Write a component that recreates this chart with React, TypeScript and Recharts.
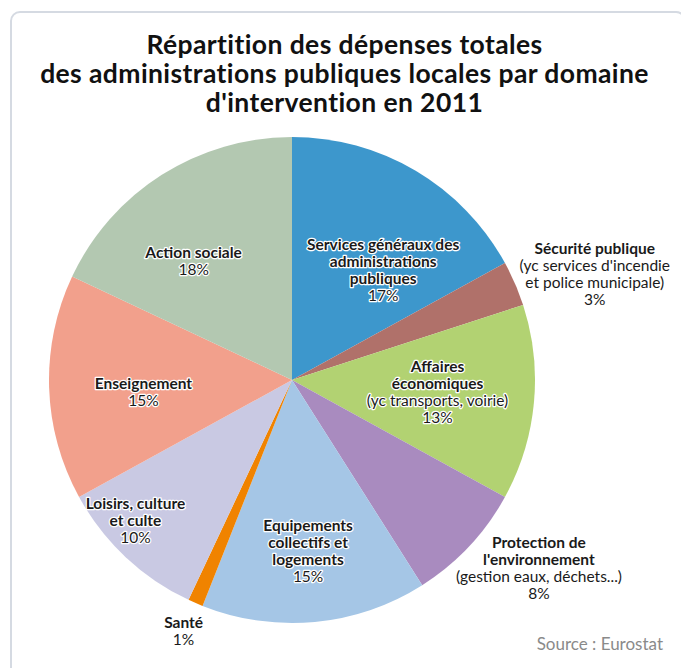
import { Cell, Pie, PieChart } from "recharts";

const domaines = [
  "Services généraux des administrations publiques",
  "Sécurité publique",
  "Affaires économiques",
  "Protection de l'environnement",
  "Equipements collectifs et logements",
  "Santé",
  "Loisirs, culture et culte",
  "Enseignement",
  "Action sociale",
];
const parts = [17, 3, 13, 8, 15, 1, 10, 15, 18];
const couleurs = [
  "#3d97cc",
  "#b0716a",
  "#b2d272",
  "#a98bbf",
  "#a5c6e6",
  "#f08300",
  "#c9c9e3",
  "#f2a08c",
  "#b3c8b1",
];

// label text: bold title lines, then optional regular lines
const titres = [
  ["Services généraux des", "administrations", "publiques"],
  ["Sécurité publique"],
  ["Affaires", "économiques"],
  ["Protection de", "l'environnement"],
  ["Equipements", "collectifs et", "logements"],
  ["Santé"],
  ["Loisirs, culture", "et culte"],
  ["Enseignement"],
  ["Action sociale"],
];
const sousTitres = [
  [],
  ["(yc services d'incendie", "et police municipale)"],
  ["(yc transports, voirie)"],
  ["(gestion eaux, déchets...)"],
  [],
  [],
  [],
  [],
  [],
];

const data = domaines.map((nom, i) => ({ nom, part: parts[i] }));

// label placement: distance from centre (px) and angle nudge (deg, clockwise)
const labelPlace = [
  { r: 143, da: 9, inside: true },
  { r: 321, da: 4, inside: false },
  { r: 146, da: -1, inside: true },
  { r: 310, da: -6, inside: false },
  { r: 171, da: 0, inside: true },
  { r: 273, da: 0, inside: false },
  { r: 210, da: 5, inside: true },
  { r: 149, da: -2.5, inside: true },
  { r: 155, da: -7, inside: true },
];

const FONT = "Lato, 'Open Sans', sans-serif";
const LINE = 17;

const renderLabel = (props: any) => {
  const { cx, cy, midAngle, index } = props;
  const place = labelPlace[index];
  const compass = ((90 - midAngle + place.da) * Math.PI) / 180;
  const x = cx + place.r * Math.sin(compass);
  const y = cy - place.r * Math.cos(compass);
  const lines = [
    ...titres[index].map((t) => ({ t, bold: true })),
    ...sousTitres[index].map((t) => ({ t, bold: false })),
    { t: `${parts[index]}%`, bold: false },
  ];
  const top = y - ((lines.length - 1) * LINE) / 2;
  return (
    <text
      key={index}
      x={x}
      y={top}
      textAnchor="middle"
      dominantBaseline="central"
      fontFamily={FONT}
      fontSize={15.5}
      fill="#1a1a1a"
      stroke={place.inside ? "#ffffff" : "none"}
      strokeWidth={2.5}
      strokeLinejoin="round"
      paintOrder="stroke"
    >
      {lines.map((l, k) => (
        <tspan
          key={k}
          x={x}
          y={top + k * LINE}
          fontWeight={l.bold ? 700 : 400}
        >
          {l.t}
        </tspan>
      ))}
    </text>
  );
};

export default function App() {
  return (
    <div
      style={{
        position: "relative",
        width: 689,
        height: 668,
        margin: "-8px 0 0 -8px",
        background: "#fff",
        overflow: "hidden",
        fontFamily: FONT,
      }}
    >
      <div
        style={{
          position: "absolute",
          left: 10,
          top: 11,
          width: 672,
          height: 700,
          border: "2px solid #d5dae2",
          borderRadius: 10,
        }}
      />
      <div
        style={{
          position: "absolute",
          left: 0,
          top: 30,
          width: 689,
          textAlign: "center",
          fontWeight: 700,
          fontSize: 26.5,
          letterSpacing: 0.4,
          lineHeight: "29px",
          color: "#111",
        }}
      >
        Répartition des dépenses totales
        <br />
        des administrations publiques locales par domaine
        <br />
        d'intervention en 2011
      </div>
      <div style={{ position: "absolute", left: 0, top: 0 }}>
        <PieChart
          width={689}
          height={668}
          margin={{ top: 0, right: 0, bottom: 0, left: 0 }}
        >
          <Pie
            data={data}
            dataKey="part"
            nameKey="nom"
            cx={292}
            cy={380}
            outerRadius={243}
            startAngle={90}
            endAngle={-270}
            stroke="none"
            label={renderLabel}
            labelLine={false}
            isAnimationActive={false}
          >
            {data.map((d, i) => (
              <Cell key={d.nom} fill={couleurs[i]} />
            ))}
          </Pie>
        </PieChart>
      </div>
      <div
        style={{
          position: "absolute",
          right: 26,
          top: 633,
          fontSize: 17,
          color: "#8a8a8a",
        }}
      >
        Source : Eurostat
      </div>
    </div>
  );
}
